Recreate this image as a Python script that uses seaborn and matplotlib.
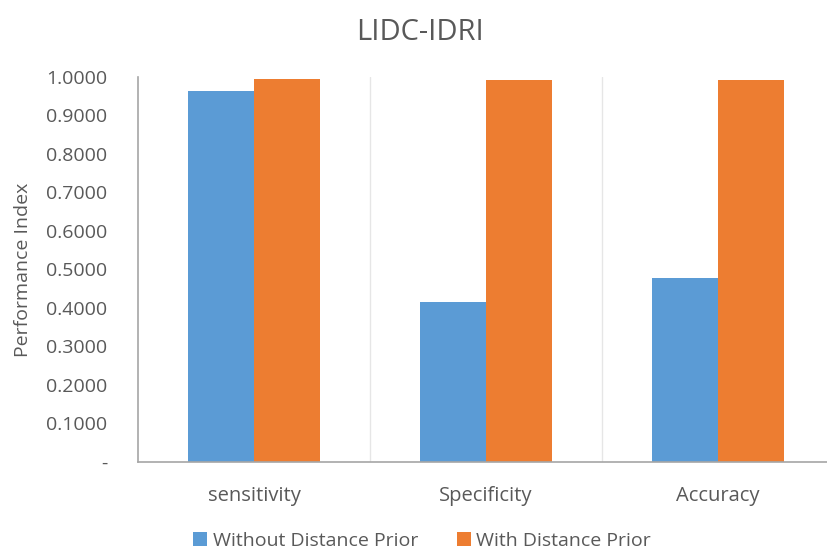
import matplotlib.pyplot as plt
import seaborn as sns
import pandas as pd

metrics = ["sensitivity", "Specificity", "Accuracy"]
without_prior = [0.9645, 0.4150, 0.4780]
with_prior = [0.9960, 0.9930, 0.9930]
series_names = ["Without Distance Prior", "With Distance Prior"]
y_ticks = [0.0, 0.1, 0.2, 0.3, 0.4, 0.5, 0.6, 0.7, 0.8, 0.9, 1.0]

df = pd.DataFrame({
    "metric": metrics * 2,
    "value": without_prior + with_prior,
    "series": [series_names[0]] * 3 + [series_names[1]] * 3,
})

sns.set_style("white")
plt.rcParams["font.family"] = ["Open Sans", "DejaVu Sans"]
text_color = "#595959"

fig = plt.figure(figsize=(8.28, 5.55), dpi=100)
ax = fig.add_axes([0.1667, 0.1676, 0.8333, 0.6937])

sns.barplot(
    data=df, x="metric", y="value", hue="series",
    palette=["#5B9BD5", "#ED7D31"], width=0.57, saturation=1,
    linewidth=0, ax=ax, legend=True,
)

ax.set_xlim(-0.5, 2.474)
ax.set_ylim(0, 1.0)
ax.set_yticks(y_ticks)
ax.set_yticklabels(["-"] + [f"{t:.4f}" for t in y_ticks[1:]])
ax.tick_params(axis="both", length=0, labelsize=14, colors=text_color)
ax.tick_params(axis="x", labelsize=14.5, pad=17)
ax.tick_params(axis="y", pad=22)

for x in [0.5, 1.5]:
    ax.axvline(x, color="#E6E6E6", linewidth=1, zorder=0)

for side in ["top", "right"]:
    ax.spines[side].set_visible(False)
for side in ["left", "bottom"]:
    ax.spines[side].set_color("#A6A6A6")
    ax.spines[side].set_linewidth(1.2)

ax.set_xlabel("")
ax.set_ylabel("Performance Index", fontsize=14, color=text_color, labelpad=10)
fig.suptitle("LIDC-IDRI", x=0.507, y=0.968, fontsize=21, color=text_color)

handles, labels = ax.get_legend_handles_labels()
ax.get_legend().remove()
fig.legend(
    handles, labels, loc="center", bbox_to_anchor=(0.51, 0.026), ncol=2,
    frameon=False, fontsize=14, labelcolor=text_color, handlelength=0.7,
    handleheight=0.7, handletextpad=0.3, columnspacing=2.0,
)

fig.savefig("out.png", dpi=100)
